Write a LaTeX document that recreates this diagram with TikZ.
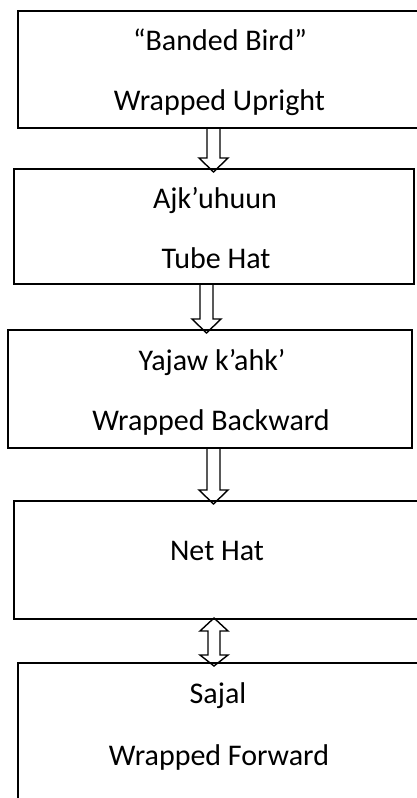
\documentclass[tikz,border=0pt]{standalone}
\usepackage{fontspec}
\setmainfont{Carlito}
\usepackage{tikz}
\usetikzlibrary{calc}

\tikzset{
 box/.style={draw,line width=1.9pt,rectangle,inner sep=0pt,outer sep=0pt},
 word/.style={anchor=base,inner sep=0pt,font=\fontsize{30}{36}\selectfont},
 blockline/.style={draw,line width=1.4pt,line join=miter}
}
\newcommand{\downblock}[3]{%
 \draw[blockline] let \p1=(#2.south), \p2=(#3.north) in
  ({(#1-6.5)*1pt},\y1) -- ({(#1-6.5)*1pt},\y2+11pt) -- ({(#1-14.5)*1pt},\y2+11pt)
  -- ({#1*1pt},\y2-3pt) -- ({(#1+14.5)*1pt},\y2+11pt) -- ({(#1+6.5)*1pt},\y2+11pt)
  -- ({(#1+6.5)*1pt},\y1);}
\newcommand{\bothblock}[3]{%
 \draw[blockline] let \p1=(#2.south), \p2=(#3.north) in
  ({#1*1pt},\y1+1pt) -- ({(#1+14)*1pt},\y1-12pt) -- ({(#1+6)*1pt},\y1-12pt)
  -- ({(#1+6)*1pt},\y2+8pt) -- ({(#1+14)*1pt},\y2+8pt) -- ({#1*1pt},\y2-3pt)
  -- ({(#1-14)*1pt},\y2+8pt) -- ({(#1-6)*1pt},\y2+8pt) -- ({(#1-6)*1pt},\y1-12pt)
  -- ({(#1-14)*1pt},\y1-12pt) -- cycle;}

\begin{document}
\begin{tikzpicture}[x=1pt,y=-1pt]
 \useasboundingbox (0,0) rectangle (416,798);
 \draw (219.5,69.5) node[box,minimum width=403,minimum height=117] (bird) {};
 \draw (214,226.5) node[box,minimum width=400,minimum height=115] (tube) {};
 \draw (210,389) node[box,minimum width=404,minimum height=118] (backward) {};
 \draw (217.5,560) node[box,minimum width=407,minimum height=118] (nethat) {};
 \draw (219.5,734.5) node[box,minimum width=403,minimum height=143] (sajal) {};
 \draw (220,50) node[word] (birdname) {“Banded Bird”};
 \draw (219.5,110) node[word] (birdwrap) {Wrapped Upright};
 \draw (215,208) node[word] (tubename) {Ajk’uhuun};
 \draw (216,268) node[word] (tubewrap) {Tube Hat};
 \draw (212,370) node[word] (backname) {Yajaw k’ahk’};
 \draw (211,430) node[word] (backwrap) {Wrapped Backward};
 \draw (217,560) node[word] (netname) {Net Hat};
 \draw (218,703) node[word] (sajalname) {Sajal};
 \draw (219,765) node[word] (sajalwrap) {Wrapped Forward};
 \downblock{213.5}{bird}{tube}
 \downblock{206.5}{tube}{backward}
 \downblock{213.5}{backward}{nethat}
 \bothblock{214}{nethat}{sajal}
\end{tikzpicture}
\end{document}
